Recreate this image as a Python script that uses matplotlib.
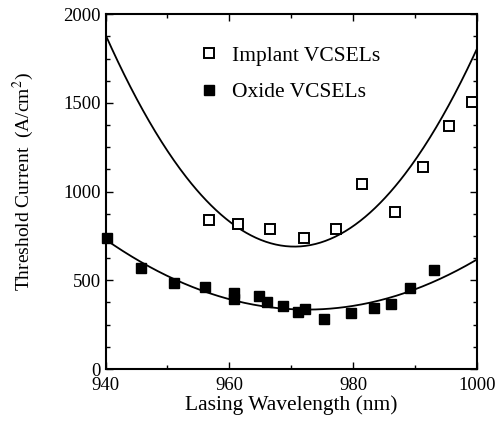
import numpy as np
import matplotlib
matplotlib.use("Agg")
import matplotlib.pyplot as plt
from matplotlib.ticker import MultipleLocator

plt.rcParams["font.family"] = ["Liberation Serif", "DejaVu Serif"]
plt.rcParams["mathtext.fontset"] = "stix"

# implant VCSELs (open squares)
implant_wl = [956.7, 961.4, 966.6, 972.0, 977.2, 981.4, 986.7, 991.2, 995.4, 999.2]
implant_jth = [840, 816, 787, 740, 787, 1043, 883, 1140, 1370, 1507]

# oxide VCSELs (filled squares)
oxide_wl = [940.2, 945.8, 951.1, 956.1, 960.8, 960.8, 964.8, 966.0, 968.7, 971.0,
            972.2, 975.3, 979.7, 983.4, 986.1, 989.2, 993.1]
oxide_jth = [740, 571, 483, 464, 427, 395, 411, 376, 357, 320,
             338, 280, 314, 342, 365, 458, 558]

# quadratic fit curves: (vertex wavelength, minimum, curvature)
implant_fit = (970.5, 690, 1.283)
oxide_fit = (972.5, 335, 0.374)

fig = plt.figure(figsize=(4.98, 4.43), dpi=100)
ax = fig.add_axes([0.212, 0.167, 0.746, 0.801])

wl = np.linspace(940, 1000, 300)
for x0, y0, a in (implant_fit, oxide_fit):
    ax.plot(wl, y0 + a * (wl - x0) ** 2, color="black", lw=1.3)

ax.plot(implant_wl, implant_jth, "s", ms=6.5, mfc="white", mec="black", mew=1.4,
        label="Implant VCSELs", clip_on=False)
ax.plot(oxide_wl, oxide_jth, "s", ms=7, mfc="black", mec="black",
        label="Oxide VCSELs", clip_on=False)

ax.set_xlim(940, 1000)
ax.set_ylim(0, 2000)
ax.xaxis.set_major_locator(MultipleLocator(20))
ax.xaxis.set_minor_locator(MultipleLocator(10))
ax.yaxis.set_major_locator(MultipleLocator(500))
ax.yaxis.set_minor_locator(MultipleLocator(125))
ax.tick_params(which="both", direction="in", top=True, right=True, labelsize=13.5, width=1)
ax.tick_params(axis="x", pad=6)
ax.tick_params(which="major", length=5)
ax.tick_params(which="minor", length=3)
for sp in ax.spines.values():
    sp.set_linewidth(1.5)

ax.set_xlabel("Lasing Wavelength (nm)", fontsize=15.5, labelpad=1)
ax.set_ylabel("Threshold Current  (A/cm$^2$)", fontsize=14)
ax.yaxis.set_label_coords(-0.187, 0.527)

ax.legend(loc="upper left", bbox_to_anchor=(0.22, 0.935), frameon=False, fontsize=15.5,
          handletextpad=0.47, labelspacing=0.76, handlelength=1.2, borderaxespad=0)

fig.savefig("out.png", dpi=100)
